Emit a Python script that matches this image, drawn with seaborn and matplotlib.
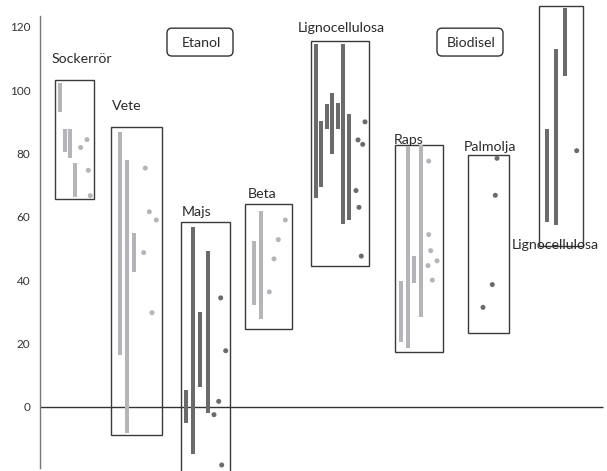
import numpy as np
import pandas as pd
import matplotlib
matplotlib.use("Agg")
import matplotlib.pyplot as plt
from matplotlib.patches import Rectangle, FancyBboxPatch
import seaborn as sns

# --- values ---
groups = ["Sockerrör", "Vete", "Majs", "Beta", "Lignocellulosa",
          "Raps", "Palmolja", "Lignocellulosa"]
tones = ["light", "light", "dark", "light", "dark", "light", "dark", "dark"]

range_low = [
    [93.2, 80.5, 78.6, 66.3],
    [16.4, -8.3, 42.7],
    [-5.0, -14.9, 6.2, -1.9],
    [32.2, 27.8],
    [66.0, 69.5, 87.7, 80.0, 87.7, 57.7, 59.1],
    [20.3, 18.5, 39.2, 28.5],
    [],
    [58.5, 57.4, 104.6],
]
range_high = [
    [102.4, 87.8, 87.8, 77.0],
    [86.7, 78.0, 54.9],
    [5.3, 56.7, 30.0, 49.2],
    [52.4, 61.9],
    [114.6, 90.3, 95.7, 99.1, 96.0, 114.6, 92.5],
    [39.7, 82.4, 47.6, 82.7],
    [],
    [87.8, 113.0, 126.0],
]
point_values = [
    [81.9, 84.4, 74.7, 66.7],
    [75.4, 61.6, 59.0, 48.7, 29.7],
    [34.4, 17.7, 1.7, -2.5, -18.4],
    [59.0, 52.8, 46.7, 36.3],
    [90.0, 84.3, 82.9, 68.3, 63.0, 47.6],
    [77.6, 54.4, 49.3, 46.1, 44.6, 40.0],
    [78.5, 66.8, 38.6, 31.4],
    [80.9],
]
box_low = [65.7, -8.9, -25.0, 24.6, 44.6, 17.4, 23.2, 50.8]
box_high = [103.3, 88.3, 58.5, 64.1, 115.7, 82.7, 79.6, 126.6]

fuel_labels = ["Etanol", "Biodisel"]
y_ticks = [0, 20, 40, 60, 80, 100, 120]

# --- layout (x in pixels from the left edge of the figure) ---
box_left = [55, 111, 181, 245, 311, 395, 468, 539]
box_right = [94, 162, 230, 292, 369, 443, 509, 583]
bar_first = [4.7, 9, 4.7, 9, 4.7, 6, 0, 8]
bar_step = [5, 7, 7.3, 6.7, 5.55, 6.7, 0, 9]
point_offset = [
    [25.7, 32, 33.3, 35.3],
    [34.3, 38.3, 45.3, 32.7, 41],
    [39.7, 44.7, 37.7, 33, 40.7],
    [40.3, 33.3, 29, 24.3],
    [54, 47, 51.7, 45, 48, 50.3],
    [33.7, 33.7, 35.7, 42, 33, 37.3],
    [29, 27.3, 24.3, 15],
    [37.7],
]
label_x = [52, 112, 182, 248, 298, 394, 464, 512]
label_y = [108.5, 93.8, 60.4, 65.9, 118.3, 83.0, 80.9, 49.9]
fuel_box_left = [167, 437]
fuel_box_top = 119.6
fuel_box_bottom = 110.8
fuel_box_width = 66

light = "#b5b5b9"
dark = "#6b6b6b"
palette = {"light": light, "dark": dark}
text_color = "#2a2a2a"

# build long tables
bars = []
dots = []
for g in range(len(groups)):
    for k, (lo, hi) in enumerate(zip(range_low[g], range_high[g])):
        bars.append({"group": g, "x": box_left[g] + bar_first[g] + k * bar_step[g],
                     "low": lo, "high": hi, "tone": tones[g]})
    for off, v in zip(point_offset[g], point_values[g]):
        dots.append({"group": g, "x": box_left[g] + off, "value": v, "tone": tones[g]})
bars = pd.DataFrame(bars)
dots = pd.DataFrame(dots)

sns.set_theme(style="white")
plt.rcParams["font.family"] = ["Lato", "DejaVu Sans"]

W, H = 607, 471
fig = plt.figure(figsize=(W / 100, H / 100), dpi=100)
ax = fig.add_axes([40 / W, 0, 1 - 40 / W, 1])
ax.set_xlim(40, W)
y_top, y_bot = 128.5, -20.3
ax.set_ylim(y_bot, y_top)
y_per_px = (y_top - y_bot) / H

# range bars
ax.vlines(bars["x"], bars["low"], bars["high"],
          colors=[palette[t] for t in bars["tone"]], linewidth=2.9,
          capstyle="butt", zorder=3)

# single values
sns.scatterplot(data=dots, x="x", y="value", hue="tone", palette=palette,
                s=13, linewidth=0, legend=False, ax=ax, zorder=3)

# group boxes
for g in range(len(groups)):
    ax.add_patch(Rectangle((box_left[g], box_low[g]), box_right[g] - box_left[g],
                           box_high[g] - box_low[g], fill=False,
                           edgecolor="#3a3a3a", linewidth=1, zorder=2))
    ax.text(label_x[g], label_y[g], groups[g], ha="left", va="baseline",
            fontsize=10.2, color=text_color)

# fuel type boxes
for lbl, xl in zip(fuel_labels, fuel_box_left):
    ax.add_patch(FancyBboxPatch((xl, fuel_box_bottom), fuel_box_width,
                                fuel_box_top - fuel_box_bottom,
                                boxstyle="round,pad=0,rounding_size=5",
                                mutation_aspect=y_per_px, fill=False,
                                edgecolor="#333333", linewidth=1))
    ax.text(xl + fuel_box_width / 2 + 1, 113.6, lbl, ha="center", va="baseline",
            fontsize=10.2, color=text_color)

# zero line
ax.hlines(0, 40, 603, color="#333333", linewidth=1, zorder=1)

for s in ["top", "right", "bottom"]:
    ax.spines[s].set_visible(False)
ax.spines["left"].set_color("#777777")
ax.spines["left"].set_linewidth(1)
ax.spines["left"].set_bounds(-19.2, 123.5)
ax.set_xticks([])
ax.set_yticks(y_ticks)
ax.set_yticklabels([str(t) for t in y_ticks])
ax.tick_params(axis="y", length=0, pad=7, labelsize=8.5, labelcolor="#333333")
ax.set_xlabel("")
ax.set_ylabel("")
ax.patch.set_alpha(0)

fig.savefig("out.png", dpi=100)
